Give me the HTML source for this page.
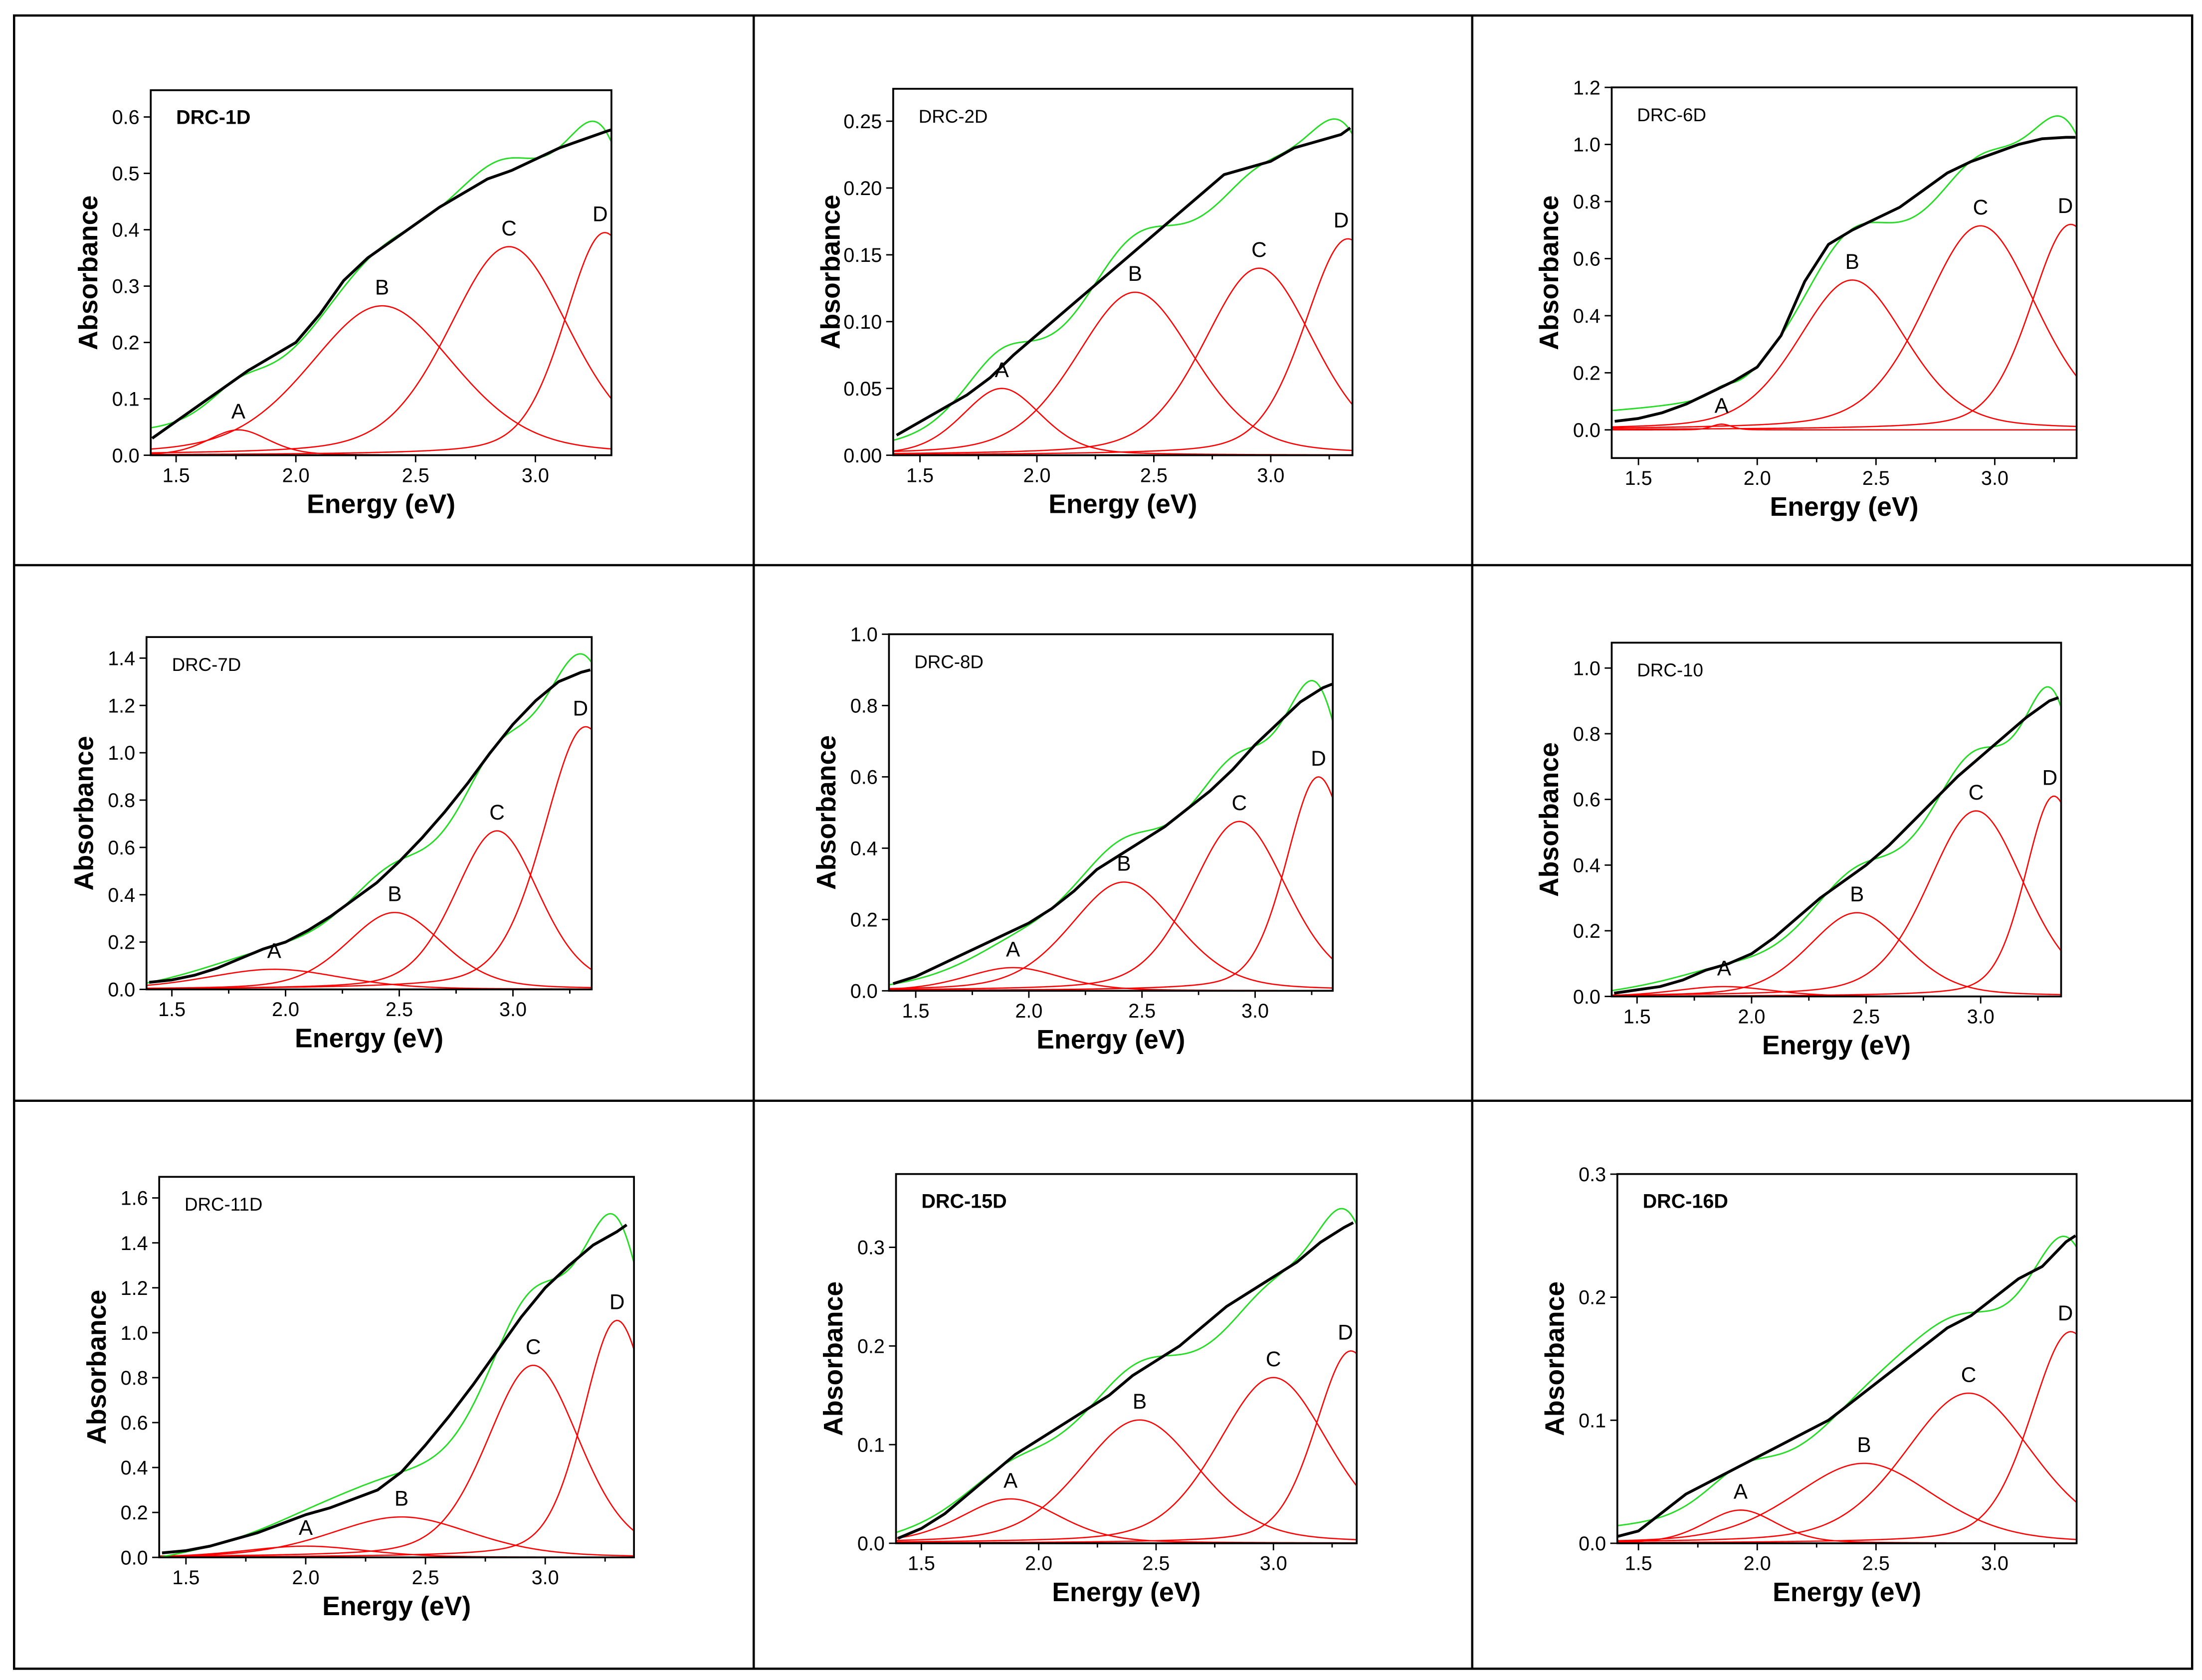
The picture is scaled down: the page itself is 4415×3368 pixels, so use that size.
<!DOCTYPE html>
<html><head><meta charset="utf-8"><style>
html,body{margin:0;padding:0;background:#fff}
svg{display:block}
text{font-family:"Liberation Sans",Arial,sans-serif}
</style></head><body>
<svg id="fig" xmlns="http://www.w3.org/2000/svg" width="4415" height="3368" viewBox="0 0 1563 1192" preserveAspectRatio="none">
<rect x="0" y="0" width="1563" height="1192" fill="#fff"/>
<g stroke="#000" stroke-width="1.6" fill="none">
<rect x="10" y="11" width="1546" height="1173"/>
<line x1="535" y1="11" x2="535" y2="1184"/><line x1="1045" y1="11" x2="1045" y2="1184"/>
<line x1="10" y1="401" x2="1556" y2="401"/><line x1="10" y1="781" x2="1556" y2="781"/>
</g>
</svg>
<script>
const panelNames = ["DRC-1D","DRC-2D","DRC-6D","DRC-7D","DRC-8D","DRC-10","DRC-11D","DRC-15D","DRC-16D"];
const titleBold = [true,false,false,false,false,false,false,true,true];
const dataE = [1.4,1.5,1.6,1.7,1.8,1.9,2.0,2.1,2.2,2.3,2.4,2.5,2.6,2.7,2.8,2.9,3.0,3.1,3.2,3.3,3.34];
const measured = [
 [.03,.06,.09,.12,.15,.175,.2,.25,.31,.35,.38,.41,.44,.465,.49,.505,.525,.545,.56,.575,.58],
 [.015,.025,.035,.045,.058,.075,.09,.105,.12,.135,.15,.165,.18,.195,.21,.215,.22,.23,.235,.24,.245],
 [.03,.04,.06,.09,.13,.17,.22,.33,.52,.65,.7,.74,.78,.84,.9,.94,.97,1.0,1.02,1.025,1.025],
 [.03,.04,.06,.09,.13,.17,.2,.25,.31,.38,.45,.54,.64,.75,.87,1.0,1.12,1.22,1.3,1.34,1.35],
 [.02,.04,.07,.1,.13,.16,.19,.23,.28,.34,.38,.42,.46,.51,.56,.62,.69,.75,.81,.85,.86],
 [.01,.02,.03,.05,.08,.1,.13,.18,.24,.3,.35,.4,.46,.53,.6,.67,.73,.79,.85,.9,.91],
 [.02,.03,.05,.08,.11,.15,.19,.22,.26,.3,.38,.5,.63,.77,.92,1.07,1.2,1.3,1.39,1.45,1.48],
 [.005,.015,.03,.05,.07,.09,.105,.12,.135,.15,.17,.185,.2,.22,.24,.255,.27,.285,.305,.32,.325],
 [.005,.01,.025,.04,.05,.06,.07,.08,.09,.1,.115,.13,.145,.16,.175,.185,.2,.215,.225,.245,.25]
];
// peaks: [center, height, hwhm] for A,B,C,D
const peakCenters = [[1.76,2.36,2.89,3.29],[1.85,2.42,2.95,3.33],[1.85,2.4,2.94,3.32],[1.95,2.48,2.93,3.32],[1.93,2.42,2.93,3.28],[1.88,2.46,2.98,3.32],[2.0,2.4,2.95,3.3],[1.88,2.43,3.0,3.33],[1.93,2.45,2.89,3.32]];
const peakHeights = [[.045,.265,.37,.395],[.05,.122,.14,.162],[.02,.525,.715,.72],[.085,.325,.67,1.11],[.065,.305,.475,.6],[.03,.255,.565,.61],[.05,.18,.855,1.055],[.045,.125,.168,.195],[.027,.065,.122,.172]];
const peakWidths = [[.15,.36,.3,.2],[.2,.3,.28,.22],[.05,.27,.28,.2],[.35,.25,.22,.22],[.25,.28,.25,.17],[.25,.25,.25,.15],[.3,.35,.23,.17],[.25,.3,.28,.18],[.18,.35,.32,.2]];
const peakLabels = ["A","B","C","D"];
const xTicks = [1.5,2.0,2.5,3.0];
const yTickSets = [[0,.1,.2,.3,.4,.5,.6],[0,.05,.1,.15,.2,.25],[0,.2,.4,.6,.8,1.0,1.2],[0,.2,.4,.6,.8,1.0,1.2,1.4],[0,.2,.4,.6,.8,1.0],[0,.2,.4,.6,.8,1.0],[0,.2,.4,.6,.8,1.0,1.2,1.4,1.6],[0,.1,.2,.3],[0,.1,.2,.3]];
const yDec = [1,2,1,1,1,1,1,1,1];
// layout (not data)
const boxes = [[107,64,434,323],[634,63,960,323],[1144,62,1474,325],[104,452,420,702],[631,450,946,703],[1144,456,1463,707],[113,835,450,1105],[636,833,963,1095],[1148,833,1474,1095]];
const xCal = [[125,210],[653,736],[1163,1247.3],[122,202.7],[650,730.3],[1162,1243.3],[132,217],[654,737.3],[1163,1247.3]];
const yCal = [[323,400],[323,948],[305,202.5],[702,167.9],[703,253],[707,233],[1105,159.4],[1095,700],[1095,873]];

const svg = document.getElementById('fig');
const NS = "http://www.w3.org/2000/svg";
function mk(tag, attrs, parent){const e=document.createElementNS(NS,tag);for(const k in attrs)e.setAttribute(k,attrs[k]);parent.appendChild(e);return e;}
function shape(E,c,h,w){const d=(E-c)/w;return h*(0.7*Math.exp(-Math.LN2*d*d)+0.3/(1+d*d));}

for(let p=0;p<9;p++){
  const [x0,y0,x1,y1]=boxes[p];
  const xs=E=>xCal[p][0]+(E-1.5)*(xCal[p][1]-xCal[p][0])/0.5;
  const ys=v=>yCal[p][0]-v*yCal[p][1];
  const eMin=1.5-(xCal[p][0]-x0)/((xCal[p][1]-xCal[p][0])/0.5);
  const eMax=1.5+(x1-xCal[p][0])/((xCal[p][1]-xCal[p][0])/0.5);
  const g=mk('g',{},svg);
  
  
  const clip=mk('clipPath',{id:'c'+p},g);
  mk('rect',{x:x0,y:y0,width:x1-x0,height:y1-y0},clip);
  const plot=mk('g',{'clip-path':'url(#c'+p+')'},g);
  
  
  const N=220, Es=[];
  for(let i=0;i<=N;i++)Es.push(eMin+(eMax-eMin)*i/N);
  const cs=peakCenters[p],hs=peakHeights[p],ws=peakWidths[p];
  // peaks
  for(let k=0;k<4;k++){
    const pts=Es.map(E=>xs(E).toFixed(2)+','+ys(shape(E,cs[k],hs[k],ws[k])).toFixed(2)).join(' ');
    const pl=mk('polyline',{points:pts,fill:'none',stroke:'#ff0000','stroke-width':0.9},plot);
    
    
  }
  // baseline for fit: least squares of residual
  const res=dataE.map((E,i)=>measured[p][i]-cs.reduce((s,c,k)=>s+shape(E,c,hs[k],ws[k]),0));
  const n=dataE.length, mx=dataE.reduce((a,b)=>a+b)/n, my=res.reduce((a,b)=>a+b)/n;
  let sxy=0,sxx=0;for(let i=0;i<n;i++){sxy+=(dataE[i]-mx)*(res[i]-my);sxx+=(dataE[i]-mx)**2;}
  const sl=sxy/sxx, ic=my-sl*mx;
  const fit=Es.map(E=>xs(E).toFixed(2)+','+ys(ic+sl*E+cs.reduce((s,c,k)=>s+shape(E,c,hs[k],ws[k]),0)).toFixed(2)).join(' ');
  const fl=mk('polyline',{points:fit,fill:'none',stroke:'#22dd22','stroke-width':1},plot);
  
  
  const dp=dataE.map((E,i)=>xs(E).toFixed(2)+','+ys(measured[p][i]).toFixed(2)).join(' ');
  const ml=mk('polyline',{points:dp,fill:'none',stroke:'#000','stroke-width':2,'stroke-linejoin':'round'},plot);
  
  
  // peak labels
  for(let k=0;k<4;k++){
    let lx=xs(cs[k]); if(lx>x1-6)lx=x1-8;
    const t=mk('text',{x:lx,y:ys(hs[k])-8,'font-size':15,'text-anchor':'middle'},g);
    t.textContent=peakLabels[k];
    
    
  }
  // frame
  const fr=mk('rect',{x:x0,y:y0,width:x1-x0,height:y1-y0,fill:'none',stroke:'#000','stroke-width':1.3},g);
  
  
  // x ticks
  for(let E=1.5;E<=eMax+1e-6;E+=0.25){
    const major=Math.abs(E*2-Math.round(E*2))<1e-6;
    mk('line',{x1:xs(E),x2:xs(E),y1:y1,y2:y1+(major?5:3),stroke:'#000','stroke-width':1},g);
  }
  xTicks.forEach(E=>{
    const t=mk('text',{x:xs(E),y:y1+19,'font-size':14,'text-anchor':'middle'},g);
    t.textContent=E.toFixed(1);
    
    
  });
  yTickSets[p].forEach(v=>{
    mk('line',{x1:x0-5,x2:x0,y1:ys(v),y2:ys(v),stroke:'#000','stroke-width':1},g);
    const t=mk('text',{x:x0-8,y:ys(v)+5,'font-size':14,'text-anchor':'end'},g);
    t.textContent=v.toFixed(yDec[p]);
    
    
  });
  const xl=mk('text',{x:(x0+x1)/2,y:y1+41,'font-size':19,'font-weight':'bold','text-anchor':'middle'},g);
  xl.textContent='Energy (eV)';
  
  
  const yx=x0-38, yy=(y0+y1)/2;
  const yl=mk('text',{x:yx,y:yy,'font-size':19,'font-weight':'bold','text-anchor':'middle',transform:'rotate(-90 '+yx+' '+yy+')'},g);
  yl.textContent='Absorbance';
  
  
  const tt=mk('text',{x:x0+18,y:y0+24,'font-size':titleBold[p]?14:13,'font-weight':titleBold[p]?'bold':'normal'},g);
  tt.textContent=panelNames[p];
  
  
}
</script>
</body></html>
